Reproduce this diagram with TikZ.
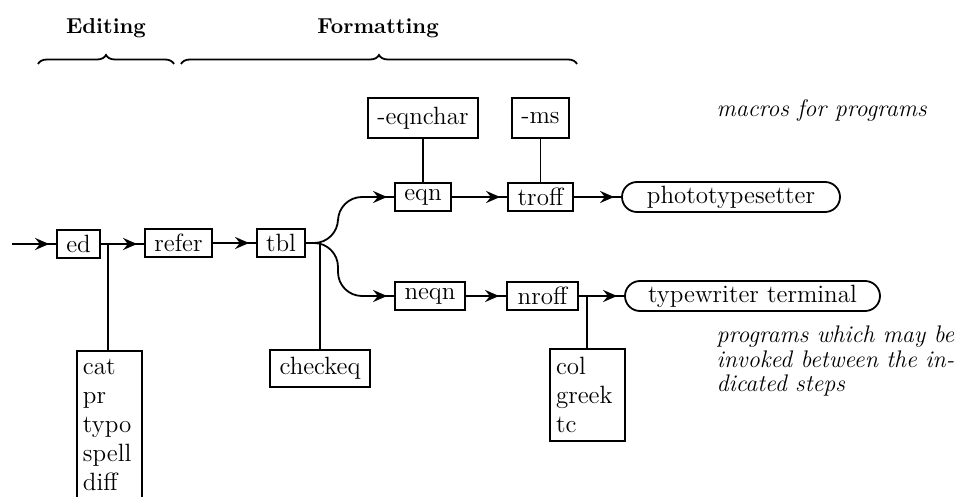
\documentclass[tikz,border=0pt]{standalone}
\usetikzlibrary{arrows.meta,decorations.markings,decorations.pathreplacing}
\begin{document}
\begin{tikzpicture}[x=0.5pt,y=-0.5pt,line width=0.9pt,
  boxtxt/.style={font=\fontsize{12.5}{14.5}\selectfont},
  prog/.style={draw,boxtxt,minimum height=14pt,inner sep=0pt},
  dev/.style={draw,boxtxt,minimum height=15pt,inner sep=0pt,rounded corners=7.5pt},
  list/.style={draw,boxtxt,anchor=north,align=left,inner xsep=3pt,inner ysep=4pt},
  head/.style={font=\fontsize{10.8}{12}\selectfont\bfseries},
  note/.style={font=\fontsize{12}{12.4}\selectfont\itshape,align=left},
  flow/.style={postaction={decorate},decoration={markings,
     mark=at position -3.5pt with {\arrow{Stealth[length=7pt,width=6pt,inset=2.4pt]}}}},
  brc/.style={decorate,decoration={brace,amplitude=4.5pt}}]
\useasboundingbox (0,0) rectangle (960,497);
\clip (0,0) rectangle (960,497);

% headings and braces
\node[head] (hedit) at (106,28) {Editing};
\node[head] (hform) at (378,28) {Formatting};
\coordinate (be1) at (38,64);
\coordinate (be2) at (174,64);
\coordinate (bf1) at (181,64);
\coordinate (bf2) at (577,64);
\draw[brc] (be1) -- (be2);
\draw[brc] (bf1) -- (bf2);

% main boxes
\node[prog,minimum width=21.5pt] (ed) at (78.5,244) {ed};
\node[prog,minimum width=33.5pt] (refer) at (178.5,243) {refer};
\node[prog,minimum width=24pt] (tbl) at (281,243) {tbl};
\node[prog,minimum width=28pt] (eqn) at (423,197) {eqn};
\node[prog,minimum width=32.5pt] (troff) at (540.5,197) {troff};
\node[prog,minimum width=35pt] (neqn) at (430,296) {neqn};
\node[prog,minimum width=35.5pt] (nroff) at (542.5,296) {nroff};
\node[prog,minimum width=55pt,minimum height=20pt] (eqnchar) at (423,118) {-eqnchar};
\node[prog,minimum width=28.5pt,minimum height=20pt] (ms) at (540.5,118) {-ms};
\node[dev,minimum width=109pt] (photo) at (731,197) {phototypesetter};
\node[dev,minimum width=127.5pt] (tty) at (752.5,296) {typewriter terminal};
\node[prog,minimum width=50pt,minimum height=18.5pt] (checkeq) at (320,368.5) {checkeq};
\node[list,minimum width=32.5pt,text width=26.5pt] (edtools) at (109.5,350) {cat\\pr\\typo\\spell\\diff\\ };
\node[list,minimum width=37.5pt,text width=31.5pt,minimum height=46pt] (nrtools) at (587.5,348) {col\\greek\\tc};

% notes
\node[note,anchor=west] (macnote) at (709,111) {macros for programs};
\node[note,anchor=north west] (prognote) at (709,318) {programs which may be\\invoked between the in-\\dicated steps};

% connectors
\coordinate (in) at (12,244);
\coordinate (edj) at (108,244);
\coordinate (tblj) at (320,243);
\coordinate (nrj) at (587,296);
\draw[flow] (in) -- (ed.west);
\draw[flow] (ed.east) -- (refer.west |- ed.east);
\draw[flow] (refer.east) -- (tbl.west);
\draw[flow,rounded corners=12pt] (tbl.east) -- (338,243) |- (eqn.west);
\draw[flow,rounded corners=12pt] (tbl.east) -- (338,243) |- (neqn.west);
\draw[flow] (eqn.east) -- (troff.west);
\draw[flow] (troff.east) -- (photo.west);
\draw[flow] (neqn.east) -- (nroff.west);
\draw[flow] (nroff.east) -- (tty.west);
\draw (eqnchar.south) -- (eqn.north);
\draw (ms.south) -- (troff.north);
\draw (edj) -- (edj |- edtools.north);
\draw (tblj) -- (tblj |- checkeq.north);
\draw (nrj) -- (nrj |- nrtools.north);
\end{tikzpicture}
\end{document}
